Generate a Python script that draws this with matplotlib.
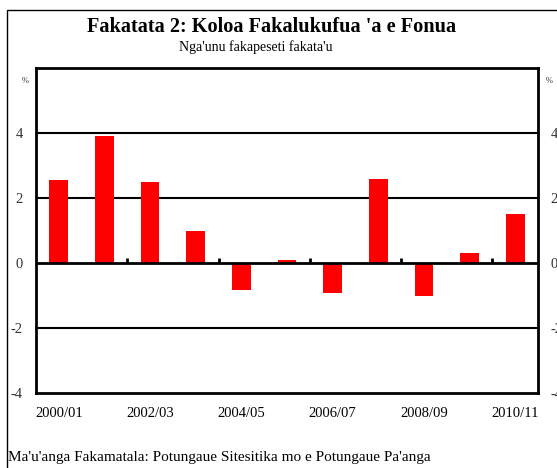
import matplotlib
matplotlib.use("Agg")
import matplotlib.pyplot as plt
from matplotlib.patches import Rectangle
import numpy as np

categories = ["2000/01", "2001/02", "2002/03", "2003/04", "2004/05", "2005/06",
              "2006/07", "2007/08", "2008/09", "2009/10", "2010/11"]
values = [2.55, 3.9, 2.5, 1.0, -0.83, 0.1, -0.92, 2.6, -1.0, 0.3, 1.5]
yticks = [-4, -2, 0, 2, 4]
title = "Fakatata 2: Koloa Fakalukufua 'a e Fonua"
subtitle = "Nga'unu fakapeseti fakata'u"
source = "Ma'u'anga Fakamatala: Potungaue Sitesitika mo e Potungaue Pa'anga"

plt.rcParams['font.family'] = ['Liberation Serif', 'DejaVu Serif']

W, H = 557, 468
fig = plt.figure(figsize=(W / 100, H / 100), dpi=100)

# outer frame (left and top visible, rest cut off)
fig.patches.append(Rectangle((7 / W, -0.1), 1.2, 1 - 10 / H + 0.1, transform=fig.transFigure,
                             fill=False, edgecolor='black', linewidth=1.0))

ax = fig.add_axes([36 / W, 1 - 393 / H, (538 - 36) / W, (393 - 68) / H])
x = np.arange(len(categories))
ax.bar(x, values, width=0.41, color='#ff0000', zorder=3)
ax.set_xlim(-0.5, len(categories) - 0.5)
ax.set_ylim(-4, 6)

for yv in [4, 2, -2]:
    ax.axhline(yv, color='black', linewidth=1.5, zorder=1)
ax.axhline(0, color='black', linewidth=2.0, zorder=4)
ax.vlines(x[1:-1:2] + 0.5, 0, 0.15, color='black', linewidth=2.0, zorder=4)

for s in ax.spines.values():
    s.set_linewidth(2.0)

ax.set_yticks(yticks)
ax.set_yticklabels([str(v) for v in yticks], fontsize=10.5, color='#333333')
ax.tick_params(axis='y', length=0, pad=9.5)
ax.set_xticks(x[::2])
ax.set_xticklabels(categories[::2], fontsize=10.5)
ax.tick_params(axis='x', length=0, pad=10)

ax2 = ax.twinx()
ax2.set_ylim(ax.get_ylim())
ax2.set_yticks(yticks)
ax2.set_yticklabels([str(v) for v in yticks], fontsize=10.5, color='#333333')
ax2.tick_params(axis='y', length=0, pad=9)
for s in ax2.spines.values():
    s.set_visible(False)

fig.text(272 / W, 1 - 27 / H, title, ha='center', va='center', fontsize=14.6, fontweight='bold')
fig.text(256 / W, 1 - 47 / H, subtitle, ha='center', va='center', fontsize=10)
fig.text(25 / W, 1 - 81 / H, "%", ha='center', va='center', fontsize=6, color='#333333')
fig.text(549 / W, 1 - 81 / H, "%", ha='center', va='center', fontsize=6, color='#333333')
fig.text(8 / W, 1 - 458 / H, source, ha='left', va='center', fontsize=11)

fig.savefig("out.png", dpi=100)
